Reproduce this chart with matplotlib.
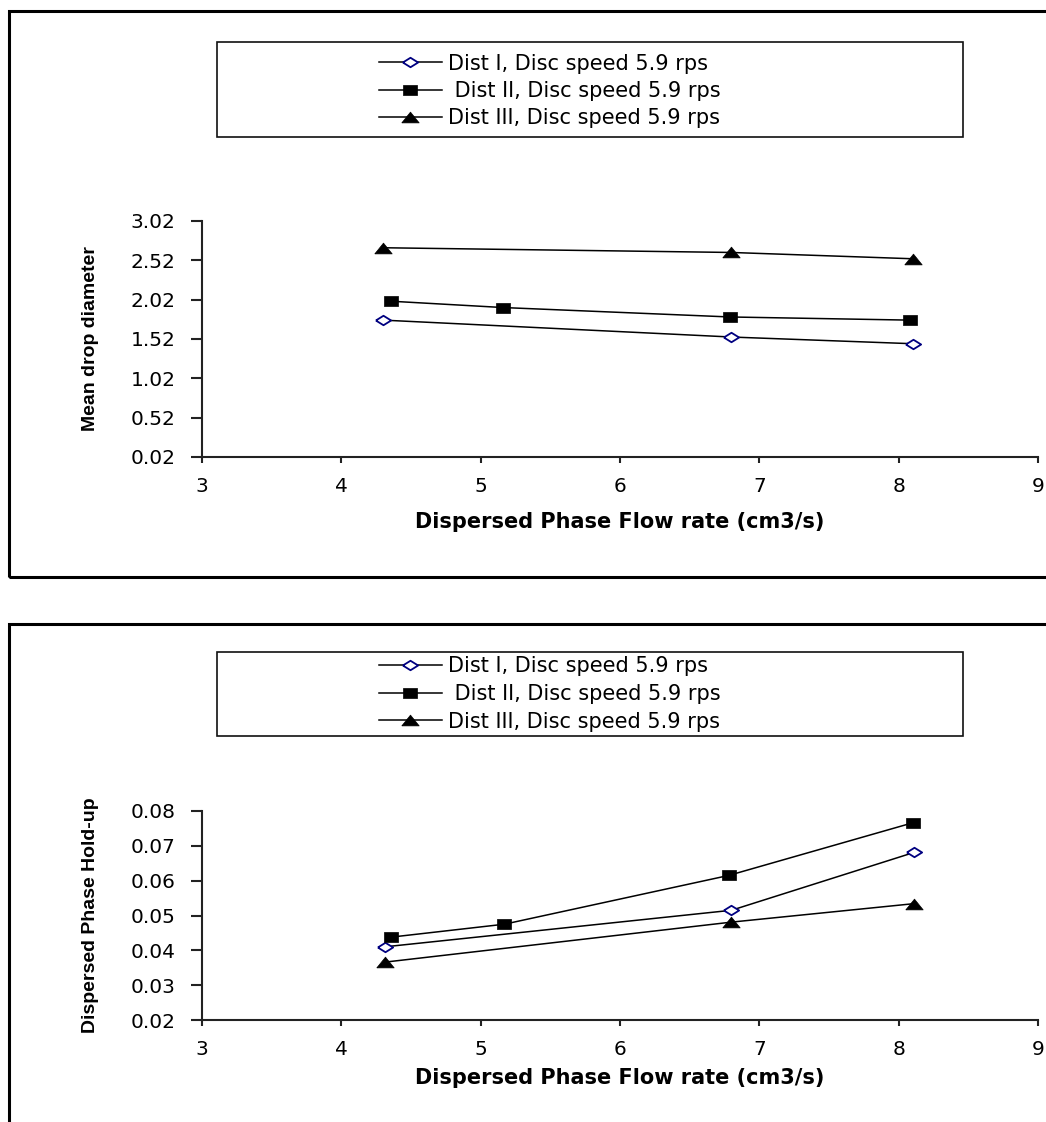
import matplotlib
matplotlib.use('Agg')
import matplotlib.pyplot as plt
from matplotlib.patches import Rectangle
from matplotlib.lines import Line2D

# ===================== global style =====================
plt.rcParams['font.family'] = ['DejaVu Sans']
plt.rcParams['axes.linewidth'] = 1.5
plt.rcParams['axes.edgecolor'] = '#222222'

# ===================== data =====================
# mean drop diameter vs dispersed phase flow rate
flow_d1 = [4.30, 6.80, 8.10]
diam_d1 = [1.76, 1.545, 1.46]
flow_d2 = [4.36, 5.16, 6.79, 8.08]
diam_d2 = [2.00, 1.92, 1.80, 1.76]
flow_d3 = [4.30, 6.80, 8.10]
diam_d3 = [2.68, 2.62, 2.54]

# dispersed phase hold-up vs dispersed phase flow rate
flow_h1 = [4.31, 6.80, 8.11]
hold_d1 = [0.0410, 0.0515, 0.0681]
flow_h2 = [4.36, 5.17, 6.78, 8.10]
hold_d2 = [0.0438, 0.0475, 0.0615, 0.0766]
flow_h3 = [4.31, 6.80, 8.11]
hold_d3 = [0.0366, 0.0481, 0.0534]

SERIES_LABELS = ['Dist I, Disc speed 5.9 rps',
                 ' Dist II, Disc speed 5.9 rps',
                 'Dist III, Disc speed 5.9 rps']

X_TICKS = [3, 4, 5, 6, 7, 8, 9]
DIAM_TICKS = [0.02, 0.52, 1.02, 1.52, 2.02, 2.52, 3.02]
HOLD_TICKS = [0.02, 0.03, 0.04, 0.05, 0.06, 0.07, 0.08]

X_LABEL = 'Dispersed Phase Flow rate (cm3/s)'
DIAM_LABEL = 'Mean drop diameter'
HOLD_LABEL = 'Dispersed Phase Hold-up'

# excel-like markers, a bit wider than tall
DIAMOND = [(-1, 0), (0, 0.62), (1, 0), (0, -0.62), (-1, 0)]
SQUARE = [(-1, -0.7), (1, -0.7), (1, 0.7), (-1, 0.7), (-1, -0.7)]
TRIANGLE = [(-1, -0.62), (1, -0.62), (0, 0.62), (-1, -0.62)]

STYLES = [
    dict(marker=DIAMOND, markersize=11, markerfacecolor='white',
         markeredgecolor='#000080', markeredgewidth=1.3),
    dict(marker=SQUARE, markersize=10.5, markerfacecolor='black',
         markeredgecolor='black', markeredgewidth=0.5),
    dict(marker=TRIANGLE, markersize=12.5, markerfacecolor='black',
         markeredgecolor='black', markeredgewidth=0.5),
]

W, H = 1046, 1122
fig = plt.figure(figsize=(W / 100, H / 100), dpi=100)


def fx(px):
    return px / W


def fy(py):
    return 1 - py / H


def style_axes(ax, yticks, ylabel, ylim, xlabel_y):
    ax.set_xlim(3, 9)
    ax.set_ylim(*ylim)
    ax.set_xticks(X_TICKS)
    ax.set_yticks(yticks)
    ax.set_yticklabels(['%.2f' % t for t in yticks])
    for s in ['top', 'right']:
        ax.spines[s].set_visible(False)
    ax.tick_params(axis='y', direction='out', length=8, width=1.5,
                   pad=11, labelsize=14.5, color='#222222')
    ax.tick_params(axis='x', direction='out', length=4.5, width=1.5,
                   pad=10, labelsize=14.5, color='#222222')
    ax.set_xlabel(X_LABEL, fontsize=15, fontweight='bold', va='center')
    ax.xaxis.set_label_coords(0.5, xlabel_y)
    ax.set_ylabel(ylabel, fontsize=14, fontweight='bold', va='center',
                  family=['Liberation Sans'])
    ax.yaxis.set_label_coords(-0.133, 0.5)


def add_legend(top_px, bottom_px, row_px):
    # legend frame
    fig.patches.append(Rectangle((fx(217), fy(bottom_px)), fx(963) - fx(217),
                                 fy(top_px) - fy(bottom_px), transform=fig.transFigure,
                                 fill=False, edgecolor='#111111', linewidth=1.2))
    handles = [Line2D([0], [0], color='black', linewidth=1.1, **st) for st in STYLES]
    fig.legend(handles, SERIES_LABELS, loc='center left',
               bbox_to_anchor=(fx(379), fy(row_px)), frameon=False,
               fontsize=15, handlelength=3.0, handletextpad=0.3,
               labelspacing=0.36, borderpad=0, borderaxespad=0)


# ---------------- panel outlines ----------------
fig.patches.append(Rectangle((fx(9), fy(577)), 1.1, fy(11) - fy(577),
                             transform=fig.transFigure, fill=False,
                             edgecolor='black', linewidth=2.2))
fig.patches.append(Rectangle((fx(9), -0.1), 1.1, fy(624) + 0.1,
                             transform=fig.transFigure, fill=False,
                             edgecolor='black', linewidth=2.2))

# ---------------- top: mean drop diameter ----------------
ax1 = fig.add_axes([fx(202), fy(457), fx(1038) - fx(202), fy(221) - fy(457)])
for xs, ys, st in zip([flow_d1, flow_d2, flow_d3], [diam_d1, diam_d2, diam_d3], STYLES):
    ax1.plot(xs, ys, color='black', linewidth=1.1, clip_on=False, **st)
style_axes(ax1, DIAM_TICKS, DIAM_LABEL, (0.02, 3.02), -0.275)
add_legend(42, 137, 91)

# ---------------- bottom: hold-up ----------------
ax2 = fig.add_axes([fx(202), fy(1020), fx(1038) - fx(202), fy(811) - fy(1020)])
for xs, ys, st in zip([flow_h1, flow_h2, flow_h3], [hold_d1, hold_d2, hold_d3], STYLES):
    ax2.plot(xs, ys, color='black', linewidth=1.1, clip_on=False, **st)
style_axes(ax2, HOLD_TICKS, HOLD_LABEL, (0.02, 0.08), -0.278)
add_legend(652, 736, 694)

plt.savefig('out.png', dpi=100)
